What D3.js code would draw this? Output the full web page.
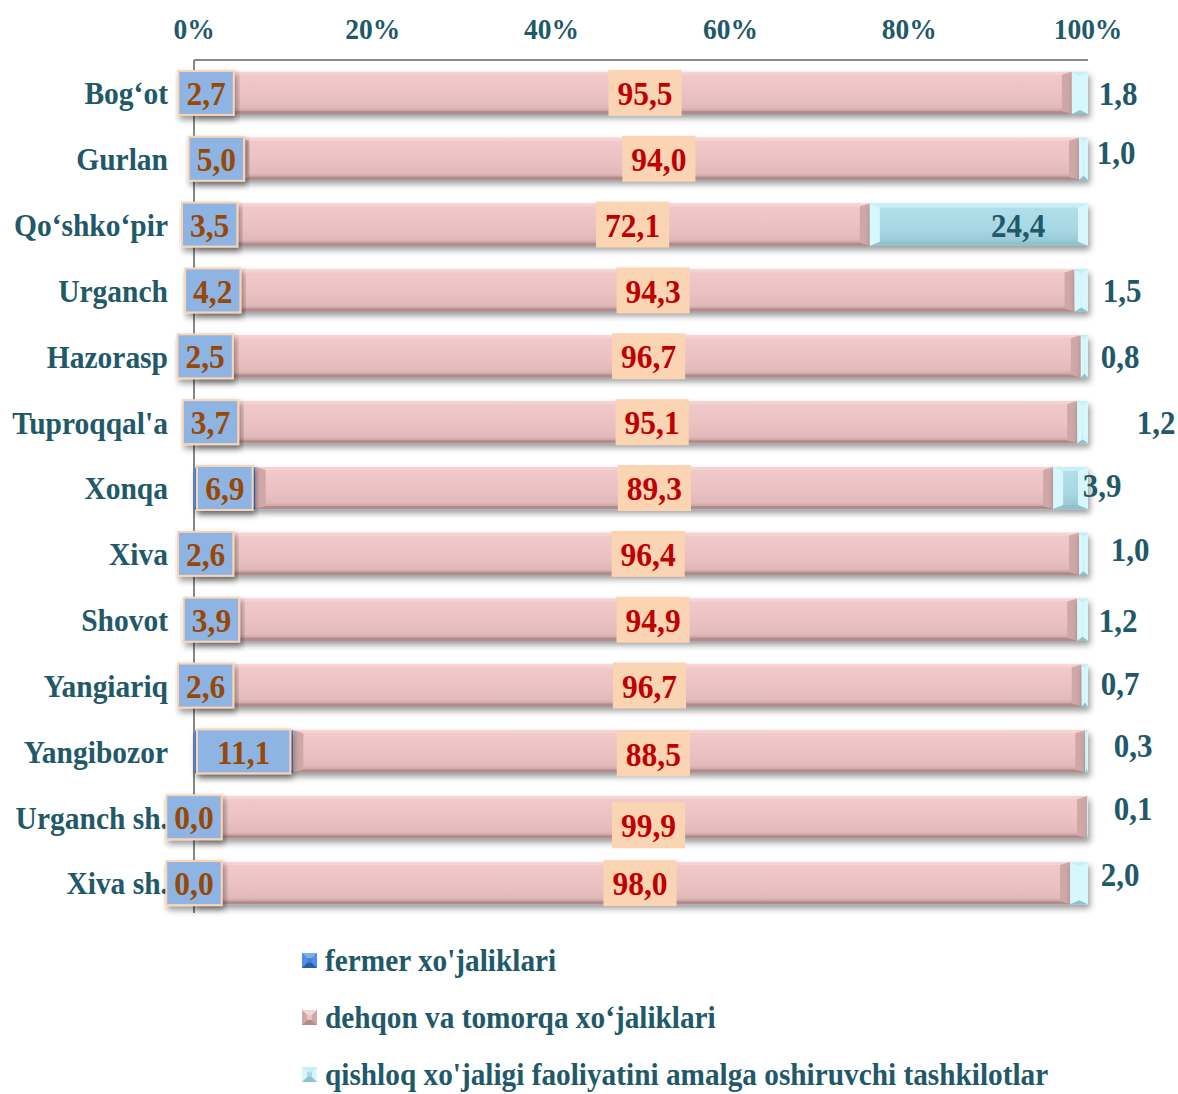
<!DOCTYPE html>
<html>
<head>
<meta charset="utf-8">
<script src="https://cdn.jsdelivr.net/npm/d3@7"></script>
<style>
  body { margin: 0; background: #fff; }
  text { font-family: "Liberation Serif", "Times New Roman", serif; font-weight: bold; }
</style>
</head>
<body>
<svg width="1178" height="1094"></svg>
<script>
// ---- data ----
var districts = ["Bog‘ot", "Gurlan", "Qo‘shko‘pir", "Urganch", "Hazorasp", "Tuproqqal'a",
                 "Xonqa", "Xiva", "Shovot", "Yangiariq", "Yangibozor", "Urganch sh.", "Xiva sh."];
var fermer    = [2.7, 5.0, 3.5, 4.2, 2.5, 3.7, 6.9, 2.6, 3.9, 2.6, 11.1, 0.0, 0.0];
var dehqon    = [95.5, 94.0, 72.1, 94.3, 96.7, 95.1, 89.3, 96.4, 94.9, 96.7, 88.5, 99.9, 98.0];
var tashkilot = [1.8, 1.0, 24.4, 1.5, 0.8, 1.2, 3.9, 1.0, 1.2, 0.7, 0.3, 0.1, 2.0];
var tickValues = [0, 0.2, 0.4, 0.6, 0.8, 1];
var seriesNames = ["fermer xo'jaliklari", "dehqon va tomorqa xo‘jaliklari",
                   "qishloq xo'jaligi faoliyatini amalga oshiruvchi tashkilotlar"];

// hand-placed label nudges, as in the original
var dehqonDx = [0, 0, 85, 0, 0, 0, 0, 0, 0, 0, -36, 8, 8];
var dehqonDy = [0, 0, 0, 0, 0, 0, 0, 0, 0, 0, 2, 8, 0];
var thirdDx = [30, 28, -70, 34, 32, 68, 14, 42, 30, 32, 45, 45, 32];
var thirdDy = [0, -7, 0, 0, 0, 0, -3, -5, 0, -2, -6, -9, -9];

var keys = ["fermer", "dehqon", "tashkilot"];
var rows = districts.map(function(d, i) {
    return {name: d, fermer: fermer[i], dehqon: dehqon[i], tashkilot: tashkilot[i]};
});

var svg = d3.select("svg");
var teal = "#215968";
var SY = 1.1; // the original's text is a bit taller than wide

var x = d3.scaleLinear().domain([0, 1]).range([194, 1088]);
var y = d3.scaleBand().domain(districts).range([60, 916]).paddingInner(0.36).paddingOuter(0.18);

var series = d3.stack().keys(keys).offset(d3.stackOffsetExpand)(rows);

// text helper: places text at (tx, ty) with vertical stretch
function label(g, tx, ty, str, size, color, anchor) {
    return g.append("text")
        .attr("transform", "translate(" + tx + "," + ty + ") scale(1," + SY + ")")
        .attr("dy", "0.35em")
        .attr("text-anchor", anchor || "middle")
        .attr("font-size", size)
        .attr("fill", color)
        .text(str);
}

// defs: shadow + gradients
var defs = svg.append("defs");
var f = defs.append("filter").attr("id", "shadow").attr("x", "-5%").attr("y", "-30%")
    .attr("width", "115%").attr("height", "180%");
f.append("feDropShadow").attr("dx", 2).attr("dy", 4).attr("stdDeviation", 3)
    .attr("flood-color", "#000").attr("flood-opacity", 0.4);

function vgrad(id, stops) {
    var gr = defs.append("linearGradient").attr("id", id)
        .attr("x1", 0).attr("y1", 0).attr("x2", 0).attr("y2", 1);
    stops.forEach(function(s) { gr.append("stop").attr("offset", s[0]).attr("stop-color", s[1]); });
}
vgrad("gPink", [[0, "#F3CACA"], [0.55, "#EBC1C1"], [0.85, "#E2B9B9"], [1, "#B48F8F"]]);
vgrad("gCyan", [[0, "#B2E0EA"], [0.6, "#A8D8E4"], [1, "#93C5D0"]]);
vgrad("gBlue", [[0, "#5A93E0"], [1, "#3A72C8"]]);

// bevel colours per series: base, top, bottom, sides, bevel width / height
var bevel = {
    fermer:    {base: "url(#gBlue)", top: "#7FAEEA", bottom: "#2C5BA8", side: "#4E8DE8", bw: 4, bh: 4},
    dehqon:    {base: "url(#gPink)", top: "#F5D3D3", bottom: "#B08C8C", side: "#CFA7A7", bw: 10, bh: 3},
    tashkilot: {base: "url(#gCyan)", top: "#C8EFF5", bottom: "#90C2CD", side: "#D6F8FC", bw: 10, bh: 4}
};

function drawBevel(g, x0, y0, w, h, c, bw, bh) {
    bw = Math.min(bw, w / 2);
    bh = Math.min(bh, h / 2);
    g.append("rect").attr("x", x0).attr("y", y0).attr("width", w).attr("height", h).attr("fill", c.base);
    var x1 = x0 + w, y1 = y0 + h;
    var polys = [
        [[x0, y0], [x1, y0], [x1 - bw, y0 + bh], [x0 + bw, y0 + bh], c.top],
        [[x0, y1], [x1, y1], [x1 - bw, y1 - bh], [x0 + bw, y1 - bh], c.bottom],
        [[x0, y0], [x0 + bw, y0 + bh], [x0 + bw, y1 - bh], [x0, y1], c.side],
        [[x1, y0], [x1 - bw, y0 + bh], [x1 - bw, y1 - bh], [x1, y1], c.side]
    ];
    polys.forEach(function(p) {
        g.append("polygon").attr("points", p.slice(0, 4).map(function(q) { return q.join(","); }).join(" "))
            .attr("fill", p[4]);
    });
}

// axes lines
svg.append("line").attr("x1", x(0)).attr("x2", x(1)).attr("y1", 60).attr("y2", 60)
    .attr("stroke", "#878787").attr("stroke-width", 2);
svg.append("line").attr("x1", x(0)).attr("x2", x(0)).attr("y1", 60).attr("y2", 913)
    .attr("stroke", "#878787").attr("stroke-width", 2);

// tick labels on top
var tickG = svg.append("g");
tickValues.forEach(function(t) {
    label(tickG, x(t), 28, d3.format(".0%")(t), 27.5, teal);
});

// bars
series.forEach(function(s) {
    var g = svg.append("g").attr("filter", "url(#shadow)");
    var c = bevel[s.key];
    s.forEach(function(d, i) {
        var w = x(d[1]) - x(d[0]);
        if (w <= 0.3) return;
        drawBevel(g, x(d[0]), y(districts[i]), w, y.bandwidth(), c, c.bw, c.bh);
    });
});

// category labels
var catG = svg.append("g");
districts.forEach(function(d) {
    label(catG, 168, y(d) + y.bandwidth() / 2, d, 29.5, teal, "end");
});

var fmt = function(v) { return v.toFixed(1).replace(".", ","); };

// boxed labels for fermer and dehqon
function boxedLabels(s, vals, fill, color, fit, dx, dy) {
    var g = svg.append("g");
    s.forEach(function(d, i) {
        var cx = (x(d[0]) + x(d[1])) / 2 + (dx ? dx[i] : 0);
        var cy = y(districts[i]) + y.bandwidth() / 2 + (dy ? dy[i] : 0);
        var t = label(g, cx, cy, fmt(vals[i]), 31.5, color);
        var tw = t.node().getBBox().width;
        var bw = tw + 16;
        if (fit) bw = Math.max(bw, x(d[1]) - x(d[0]) - 6);
        g.insert("rect", function() { return t.node(); })
            .attr("x", cx - bw / 2).attr("y", cy - 22)
            .attr("width", bw).attr("height", 44)
            .attr("fill", fill)
            .attr("stroke", "#FBD4B4").attr("stroke-width", 2)
            .attr("filter", fit ? "url(#shadow)" : null);
    });
}
boxedLabels(series[0], fermer, "#8EB4E3", "#984806", true);
boxedLabels(series[1], dehqon, "#FBD4B4", "#C00000", false, dehqonDx, dehqonDy);

// third series labels
var thirdG = svg.append("g");
series[2].forEach(function(d, i) {
    label(thirdG, x(1) + thirdDx[i], y(districts[i]) + y.bandwidth() / 2 + thirdDy[i],
          fmt(tashkilot[i]), 31, teal);
});

// legend
var legend = svg.append("g");
seriesNames.forEach(function(name, i) {
    var ly = 960 + i * 57;
    var c = bevel[keys[i]];
    drawBevel(legend.append("g"), 302, ly - 7, 15, 15, c, 5, 5);
    label(legend, 325, ly, name, 29.3, teal, "start");
});
</script>
</body>
</html>
